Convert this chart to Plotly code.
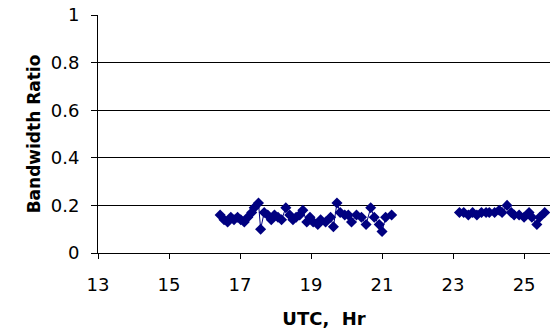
import plotly.graph_objects as go

# Bandwidth ratio samples, first observing session (UTC hours)
utc_session1 = [16.44, 16.55, 16.65, 16.74, 16.83, 16.93, 17.02, 17.12, 17.22, 17.33,
                17.40, 17.52, 17.58, 17.68, 17.78, 17.88, 17.97, 18.07, 18.17, 18.29,
                18.40, 18.49, 18.58, 18.68, 18.77, 18.88, 18.97, 19.06, 19.19, 19.27,
                19.41, 19.55, 19.63, 19.73, 19.82, 19.95, 20.05, 20.14, 20.28, 20.42,
                20.55, 20.68, 20.78, 20.92, 21.00, 21.10, 21.27]
ratio_session1 = [0.16, 0.14, 0.13, 0.15, 0.14, 0.15, 0.14, 0.13, 0.15, 0.17,
                  0.19, 0.21, 0.10, 0.17, 0.16, 0.14, 0.16, 0.15, 0.14, 0.19,
                  0.16, 0.14, 0.15, 0.16, 0.18, 0.13, 0.15, 0.13, 0.12, 0.14,
                  0.13, 0.15, 0.11, 0.21, 0.17, 0.16, 0.16, 0.13, 0.16, 0.15,
                  0.12, 0.19, 0.15, 0.12, 0.09, 0.15, 0.16]

# Second observing session
utc_session2 = [23.18, 23.30, 23.43, 23.55, 23.67, 23.80, 23.93, 24.02, 24.17, 24.30,
                24.38, 24.52, 24.64, 24.72, 24.86, 25.00, 25.14, 25.22, 25.36, 25.44,
                25.58]
ratio_session2 = [0.17, 0.17, 0.16, 0.17, 0.16, 0.17, 0.17, 0.17, 0.17, 0.18,
                  0.17, 0.20, 0.17, 0.16, 0.16, 0.15, 0.17, 0.15, 0.12, 0.15,
                  0.17]

x_ticks = [13, 15, 17, 19, 21, 23, 25]
y_ticks = [0, 0.2, 0.4, 0.6, 0.8, 1.0]
y_tick_text = ["0", "0.2", "0.4", "0.6", "0.8", "1"]

# gap (None) between the two sessions breaks the connecting line
x_all = utc_session1 + [None] + utc_session2
y_all = ratio_session1 + [None] + ratio_session2

navy = "#000080"
fig = go.Figure(go.Scatter(
    x=x_all, y=y_all, mode="lines+markers",
    line=dict(color=navy, width=1),
    marker=dict(symbol="diamond", size=8.5, color=navy),
    connectgaps=False, showlegend=False,
))

tick_font = dict(family="DejaVu Sans", size=18, color="black")
title_font = dict(family="DejaVu Sans", size=18, color="black")

fig.update_layout(
    width=550, height=334,
    margin=dict(l=98, r=0, t=15, b=81),
    paper_bgcolor="white", plot_bgcolor="white",
    xaxis=dict(
        range=[13, 25.73], tickvals=x_ticks, ticks="outside", ticklen=5,
        tickcolor="black", showline=True, linecolor="black", linewidth=1,
        showgrid=False, zeroline=False, tickfont=tick_font,
        ticklabelstandoff=10,
        title=dict(text="<b>UTC,\u00a0\u00a0Hr</b>", font=title_font, standoff=18),
    ),
    yaxis=dict(
        range=[0, 1], tickvals=y_ticks, ticktext=y_tick_text, ticks="outside",
        ticklen=6, tickcolor="black", showline=True, linecolor="black",
        linewidth=1, showgrid=True, gridcolor="black", gridwidth=1,
        zeroline=False, tickfont=tick_font, ticklabelstandoff=8,
        title=dict(text="<b>Bandwidth Ratio</b>",
                   font=dict(family="DejaVu Sans", size=17, color="black"),
                   standoff=5),
    ),
)

fig.write_html("out.html")
